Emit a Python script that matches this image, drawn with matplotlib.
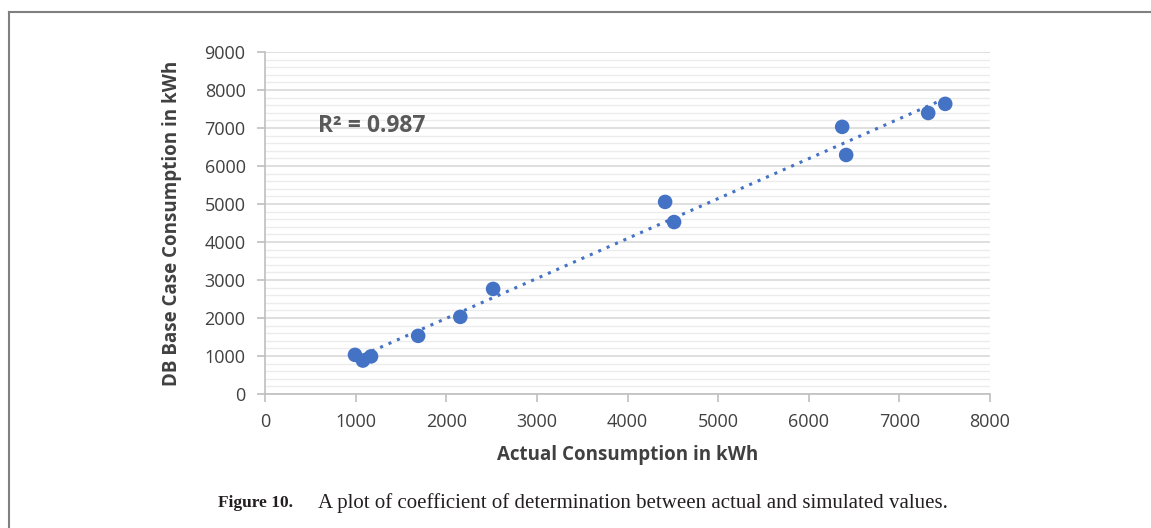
import matplotlib
matplotlib.use("Agg")
import matplotlib.pyplot as plt
import numpy as np
from matplotlib.ticker import MultipleLocator

actual = [993, 1080, 1170, 1690, 2155, 2517, 4415, 4514, 6369, 6413, 7318, 7506]
simulated = [1030, 880, 990, 1530, 2030, 2765, 5055, 4525, 7030, 6290, 7395, 7635]
x_ticks = [0, 1000, 2000, 3000, 4000, 5000, 6000, 7000, 8000]
y_ticks = [0, 1000, 2000, 3000, 4000, 5000, 6000, 7000, 8000, 9000]
r2_text = "R² = 0.987"

W, H = 1151, 528
fig = plt.figure(figsize=(W / 100, H / 100), dpi=100)
ax = fig.add_axes([265 / W, 1 - 394 / H, (990 - 265) / W, (394 - 52) / H])

ax.set_xlim(0, 8000)
ax.set_ylim(0, 9000)
ax.set_xticks(x_ticks)
ax.set_yticks(y_ticks)
ax.yaxis.set_minor_locator(MultipleLocator(200))
ax.grid(True, which="major", axis="y", color="#d9d9d9", linewidth=1.2)
ax.grid(True, which="minor", axis="y", color="#ececec", linewidth=1.0)
ax.set_axisbelow(True)

for s in ["top", "right"]:
    ax.spines[s].set_visible(False)
for s in ["left", "bottom"]:
    ax.spines[s].set_color("#bfbfbf")
    ax.spines[s].set_linewidth(1.2)
ax.tick_params(axis="both", which="major", direction="out", length=6, color="#bfbfbf",
               labelsize=13, labelcolor="#404040", width=1.2)
ax.tick_params(axis="y", which="minor", length=0)
ax.tick_params(axis="x", pad=8)
ax.tick_params(axis="y", pad=8)
for lbl in ax.get_xticklabels() + ax.get_yticklabels():
    lbl.set_fontfamily("Open Sans")

# trendline
xa = np.array(actual, dtype=float)
ya = np.array(simulated, dtype=float)
m, b = np.polyfit(xa, ya, 1)
xt = np.array([xa.min(), xa.max()])
ax.plot(xt, m * xt + b, linestyle=(0, (1, 2.0)), color="#4472C4", linewidth=2.2, zorder=2)

ax.scatter(actual, simulated, s=110, color="#4472C4", zorder=3, edgecolors="none")

ax.text(585, 7040, r2_text, fontsize=16.5, fontweight="bold", color="#595959",
        family="Open Sans", va="center", ha="left")

ax.set_xlabel("Actual Consumption in kWh", fontsize=13.5, fontweight="bold",
              color="#404040", family="Open Sans", labelpad=10)
ax.set_ylabel("DB Base Case Consumption in kWh", fontsize=13.5, fontweight="bold",
              color="#404040", family="Open Sans", labelpad=16)

# outer frame (left and top lines)
fig.add_artist(plt.Line2D([9 / W, 9 / W], [0, 1 - 12 / H], transform=fig.transFigure,
                          color="#808080", linewidth=1.5))
fig.add_artist(plt.Line2D([9 / W, 1], [1 - 12 / H, 1 - 12 / H], transform=fig.transFigure,
                          color="#808080", linewidth=1.5))

# caption
fig.text(218 / W, 1 - 503 / H, "Figure 10.", fontsize=12.5, fontweight="bold",
         family="Liberation Serif", color="#231f20", va="center", ha="left")
fig.text(318 / W, 1 - 503 / H,
         "A plot of coefficient of determination between actual and simulated values.",
         fontsize=15, family="Liberation Serif", color="#231f20", va="center", ha="left")

fig.savefig("out.png", dpi=100, facecolor="white")
